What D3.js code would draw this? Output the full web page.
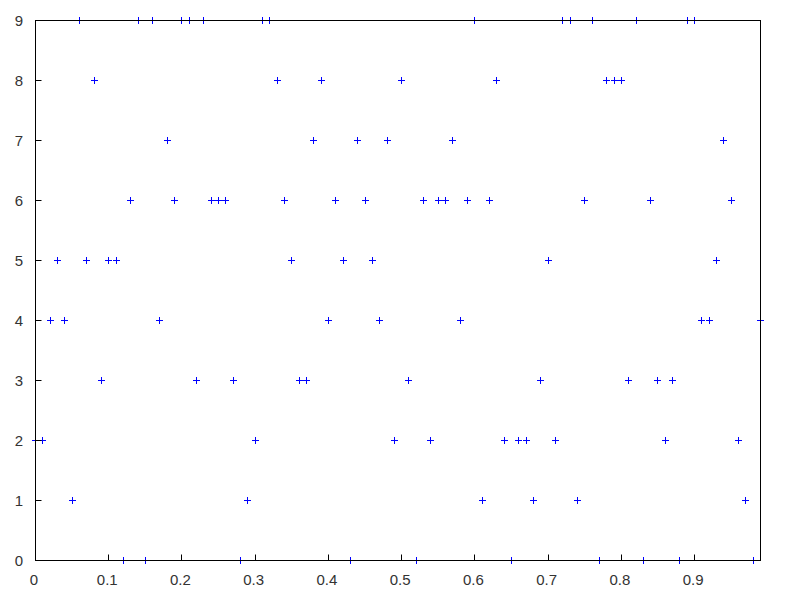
<!DOCTYPE html>
<html>
<head>
<meta charset="utf-8">
<script src="https://cdn.jsdelivr.net/npm/d3@7"></script>
<style>
  html, body { margin: 0; padding: 0; background: #ffffff; }
  svg { display: block; }
</style>
</head>
<body>
<script>
// ---- data ----
const xValues = [
  0.00,0.01,0.02,0.03,0.04,0.05,0.06,0.07,0.08,0.09,
  0.10,0.11,0.12,0.13,0.14,0.15,0.16,0.17,0.18,0.19,
  0.20,0.21,0.22,0.23,0.24,0.25,0.26,0.27,0.28,0.29,
  0.30,0.31,0.32,0.33,0.34,0.35,0.36,0.37,0.38,0.39,
  0.40,0.41,0.42,0.43,0.44,0.45,0.46,0.47,0.48,0.49,
  0.50,0.51,0.52,0.53,0.54,0.55,0.56,0.57,0.58,0.59,
  0.60,0.61,0.62,0.63,0.64,0.65,0.66,0.67,0.68,0.69,
  0.70,0.71,0.72,0.73,0.74,0.75,0.76,0.77,0.78,0.79,
  0.80,0.81,0.82,0.83,0.84,0.85,0.86,0.87,0.88,0.89,
  0.90,0.91,0.92,0.93,0.94,0.95,0.96,0.97,0.98,0.99
];
const yValues = [
  2,2,4,5,4,1,9,5,8,3,
  5,5,0,6,9,0,9,4,7,6,
  9,9,3,9,6,6,6,3,0,1,
  2,9,9,8,6,5,3,3,7,8,
  4,6,5,0,7,6,5,4,7,2,
  8,3,0,6,2,6,6,7,4,6,
  9,1,6,8,2,0,2,2,1,3,
  5,2,9,9,1,6,9,0,8,8,
  8,3,9,0,6,3,2,3,0,9,
  9,4,4,5,7,6,2,1,0,4
];
const xTickValues = [0,0.1,0.2,0.3,0.4,0.5,0.6,0.7,0.8,0.9];
const xTickLabels = ["0","0.1","0.2","0.3","0.4","0.5","0.6","0.7","0.8","0.9"];
const yTickValues = [0,1,2,3,4,5,6,7,8,9];
const yTickLabels = ["0","1","2","3","4","5","6","7","8","9"];
const xDomain = [0, 0.99];
const yDomain = [0, 9];

(function () {
  const W = 800, H = 600;
  const mLeft = 35, mRight = 760, mTop = 20, mBottom = 560;

  const svg = d3.select("body").append("svg")
    .attr("width", W).attr("height", H);

  const x = d3.scaleLinear().domain(xDomain).range([mLeft, mRight]);
  const y = d3.scaleLinear().domain(yDomain).range([mBottom, mTop]);

  const crisp = v => Math.round(v) + 0.5;

  // markers
  const arm = 3.5;
  svg.append("g").selectAll("path.pt")
    .data(xValues.map((v, i) => [v, yValues[i]]))
    .join("path")
    .attr("class", "pt")
    .attr("d", d => {
      const px = crisp(x(d[0])), py = crisp(y(d[1]));
      return `M${px - arm},${py}H${px + arm}M${px},${py - arm}V${py + arm}`;
    })
    .attr("fill", "none")
    .attr("stroke", "#0000ff")
    .attr("stroke-width", 1);

  // inward ticks
  const tickLen = 6;
  const ticks = svg.append("g").attr("stroke", "#000").attr("stroke-width", 1);
  ticks.selectAll("line.xt").data(xTickValues).join("line")
    .attr("class", "xt")
    .attr("x1", d => crisp(x(d))).attr("x2", d => crisp(x(d)))
    .attr("y1", crisp(y(0))).attr("y2", crisp(y(0)) - tickLen);
  ticks.selectAll("line.yt").data(yTickValues).join("line")
    .attr("class", "yt")
    .attr("x1", crisp(x(0))).attr("x2", crisp(x(0)) + tickLen)
    .attr("y1", d => crisp(y(d))).attr("y2", d => crisp(y(d)));

  // frame
  svg.append("rect")
    .attr("x", crisp(x(xDomain[0])))
    .attr("y", crisp(y(yDomain[1])))
    .attr("width", Math.round(x(xDomain[1])) - Math.round(x(xDomain[0])))
    .attr("height", Math.round(y(yDomain[0])) - Math.round(y(yDomain[1])))
    .attr("fill", "none")
    .attr("stroke", "#000")
    .attr("stroke-width", 1);

  // labels
  const font = "'Liberation Sans', Arial, sans-serif";
  svg.append("g").selectAll("text.xl").data(xTickValues).join("text")
    .attr("class", "xl")
    .attr("x", d => x(d) - 1)
    .attr("y", 585)
    .attr("text-anchor", "middle")
    .attr("font-family", font)
    .attr("font-size", 15)
    .attr("fill", "#333")
    .text((d, i) => xTickLabels[i]);

  svg.append("g").selectAll("text.yl").data(yTickValues).join("text")
    .attr("class", "yl")
    .attr("x", 23)
    .attr("y", d => y(d) + 5.5)
    .attr("text-anchor", "end")
    .attr("font-family", font)
    .attr("font-size", 15)
    .attr("fill", "#333")
    .text((d, i) => yTickLabels[i]);
})();
</script>
</body>
</html>
